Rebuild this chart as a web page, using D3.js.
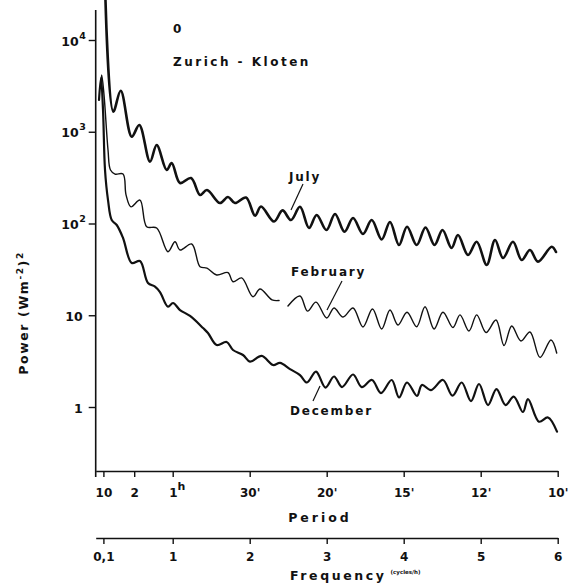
<!DOCTYPE html>
<html><head><meta charset="utf-8">
<script src="https://cdn.jsdelivr.net/npm/d3@7"></script>
<style>
body{margin:0;background:#fff;}
svg text{font-family:"DejaVu Sans",sans-serif;}
</style></head>
<body>
<script>
// ---------- DATA ----------
const julyFreq = [0.127,0.229,0.325,0.468,0.566,0.705,0.792,0.922,0.987,1.095,1.238,1.355,1.445,1.614,1.718,1.809,1.952,2.069,2.147,2.316,2.426,2.536,2.653,2.770,2.870,2.997,3.108,3.231,3.342,3.471,3.584,3.714,3.822,3.939,4.043,4.169,4.283,4.400,4.504,4.621,4.705,4.835,4.948,5.078,5.186,5.290,5.419,5.532,5.640,5.744,5.922,5.978];
const julyPower = [27300,1656,2800,883,1186,472,718,383,456,276,313,205,232,167,194.5,167,192,122,153,105,139,109,152,89.3,124,84.9,127,81.4,115,76.9,109,66.9,104,58.3,92.3,58.3,90.4,58.3,84.9,54.1,74.9,45.4,63.3,35.3,66.1,42.1,63.3,40.0,51.4,38.4,55.8,48.9];

const febFreq = [0.062,0.078,0.108,0.160,0.192,0.251,0.355,0.394,0.458,0.575,0.662,0.792,0.939,1.030,1.095,1.247,1.355,1.445,1.571,1.718,1.783,1.896,2.043,2.134,2.290,2.381,2.44,2.497,2.653,2.751,2.861,3.000,3.095,3.212,3.342,3.471,3.595,3.714,3.822,3.926,4.043,4.169,4.277,4.394,4.510,4.640,4.731,4.848,4.948,5.069,5.199,5.303,5.403,5.523,5.640,5.770,5.913,5.987];
const febPower = [3000,4160,2520,632,383,346,346,205,152,180,92.3,89.3,49.3,63.3,51.4,59.8,33.8,32.7,27.5,29.2,23.2,25.5,15.9,19.3,14.7,14.5,null,12.6,16.2,11.1,13.9,9.33,12.0,9.57,12.0,7.45,11.7,7.08,11.4,7.83,10.8,7.50,12.4,7.08,10.8,7.35,10.1,6.74,10.1,6.49,8.87,4.68,7.64,5.24,6.57,3.47,5.37,3.88];

const decFreq = [0.043,0.069,0.095,0.121,0.160,0.208,0.273,0.355,0.468,0.575,0.679,0.770,0.835,0.939,1.004,1.095,1.225,1.394,1.458,1.571,1.701,1.783,1.913,2.004,2.156,2.303,2.394,2.523,2.653,2.744,2.861,2.984,3.095,3.199,3.342,3.455,3.588,3.705,3.844,3.939,4.043,4.173,4.236,4.355,4.510,4.634,4.753,4.874,4.978,5.095,5.205,5.322,5.429,5.549,5.614,5.757,5.874,5.991];
const decPower = [2220,3850,1730,383,180,109,96.3,69.5,37.1,39.0,22.5,20.5,17.9,12.4,13.6,11.4,9.82,7.26,6.41,4.74,5.11,4.18,3.69,3.12,3.60,2.87,3.02,2.59,2.23,1.85,2.43,1.63,2.15,1.65,2.26,1.65,1.97,1.42,1.97,1.27,1.85,1.32,1.74,1.53,1.97,1.33,1.85,1.16,1.78,1.05,1.57,1.05,1.30,0.882,1.22,0.692,0.769,0.538];

const powerTicks = [1,10,100,1000,10000];
const powerLabels = [["1",""],["10",""],["10","2"],["10","3"],["10","4"]];
const periodTicks = [0.1,0.5,1,2,3,4,5,6];
const periodLabels = ["10","2","1","30'","20'","15'","12'","10'"];
const freqTicks = [0.1,1,2,3,4,5,6];
const freqLabels = ["0,1","1","2","3","4","5","6"];

// ---------- CHART ----------
const W = 568, H = 584;
const svg = d3.select("body").append("svg").attr("width", W).attr("height", H);
svg.append("rect").attr("width", W).attr("height", H).attr("fill", "#fff");

const x = d3.scaleLinear().domain([0, 6]).range([95.7, 557.7]);
const y = d3.scaleLog().domain([1, 10000]).range([407, 40]);
const ink = "#111";

// y axis
svg.append("line").attr("x1", x(0)).attr("x2", x(0)).attr("y1", 10).attr("y2", 477)
  .attr("stroke", ink).attr("stroke-width", 1.6);
const yAx = svg.append("g").attr("transform", `translate(${x(0)},0)`)
  .call(d3.axisLeft(y).tickValues(powerTicks).tickFormat("").tickSize(7).tickSizeOuter(0));
yAx.select(".domain").remove();
yAx.selectAll(".tick text").remove();
yAx.selectAll(".tick line").attr("stroke", ink).attr("stroke-width", 1.4);
yAx.selectAll(".tick").each(function(d, i) {
  const sup = powerLabels[i][1] !== "";
  d3.select(this).append("text").attr("x", sup ? -17 : -13).attr("y", 5)
    .attr("text-anchor", "end").attr("fill", ink)
    .style("font-size", "12.5px").style("font-weight", "bold").text(powerLabels[i][0]);
  if (sup) {
    d3.select(this).append("text").attr("x", -16.5).attr("y", -2).attr("fill", ink)
      .attr("text-anchor", "start")
      .style("font-size", "9.5px").style("font-weight", "bold").text(powerLabels[i][1]);
  }
});

// period axis
const pAx = svg.append("g").attr("transform", "translate(0,471)")
  .call(d3.axisBottom(x).tickValues(periodTicks).tickFormat("").tickSize(6).tickSizeOuter(0));
pAx.selectAll(".tick text").remove();
pAx.select(".domain").attr("stroke", ink).attr("stroke-width", 1.6);
pAx.selectAll(".tick line").attr("stroke", ink).attr("stroke-width", 1.4);
pAx.selectAll(".tick").each(function(d, i) {
  const t = d3.select(this).append("text").attr("y", 26).attr("fill", ink)
    .attr("text-anchor", "middle")
    .style("font-size", "12px").style("font-weight", "bold");
  t.append("tspan").text(periodLabels[i]);
  if (i === 2) {
    t.attr("text-anchor", "start").attr("x", -4);
    t.append("tspan").attr("dy", -7).style("font-size", "11px").text("h");
  }
});
svg.append("text").attr("x", 320).attr("y", 522).attr("text-anchor", "middle")
  .attr("fill", ink).style("font-size", "12.5px").style("font-weight", "bold")
  .style("letter-spacing", "3px").text("Period");

// frequency axis
const fAx = svg.append("g").attr("transform", "translate(0,538)")
  .call(d3.axisBottom(x).tickValues(freqTicks).tickFormat((d, i) => freqLabels[i]).tickSize(6).tickSizeOuter(0));
fAx.select(".domain").attr("stroke", ink).attr("stroke-width", 1.6);
fAx.selectAll(".tick line").attr("stroke", ink).attr("stroke-width", 1.4);
fAx.selectAll(".tick text").attr("fill", ink).attr("dy", 0).attr("y", 23)
  .style("font-size", "12px").style("font-weight", "bold");
const ft = svg.append("text").attr("x", 290).attr("y", 580).attr("fill", ink)
  .style("font-size", "12.5px").style("font-weight", "bold").style("letter-spacing", "2.6px");
ft.append("tspan").text("Frequency");
ft.append("tspan").attr("dx", 4).attr("dy", -6).style("font-size", "5.5px").style("letter-spacing", "0px").text("(cycles/h)");

// y label
svg.append("text").attr("transform", "translate(28,313) rotate(-90)").attr("text-anchor", "middle")
  .attr("fill", ink).style("font-size", "12.5px").style("font-weight", "bold").style("letter-spacing", "1.6px")
  .call(t => {
    t.append("tspan").text("Power  (Wm");
    t.append("tspan").attr("dy", -5).style("font-size", "9px").text("-2");
    t.append("tspan").attr("dy", 5).text(")");
    t.append("tspan").attr("dy", -5).style("font-size", "9px").text("2");
  });

// titles
svg.append("text").attr("x", 173).attr("y", 33).attr("fill", ink)
  .style("font-size", "12px").style("font-weight", "bold").text("0");
svg.append("text").attr("x", 173).attr("y", 66).attr("fill", ink)
  .style("font-size", "12px").style("font-weight", "bold").style("letter-spacing", "2.5px").text("Zurich - Kloten");

// curves
const mk = (fs, ps) => fs.map((f, i) => ({f, p: ps[i]}));
const line = d3.line().defined(d => d.p != null).x(d => x(d.f)).y(d => y(d.p)).curve(d3.curveCatmullRom.alpha(0.5));
const series = [
  {data: mk(julyFreq, julyPower), w: 2.6},
  {data: mk(febFreq, febPower), w: 1.4},
  {data: mk(decFreq, decPower), w: 2.2}
];
svg.append("defs").append("clipPath").attr("id", "clip")
  .append("rect").attr("x", 0).attr("y", 0).attr("width", W).attr("height", 471);
svg.append("g").attr("clip-path", "url(#clip)").selectAll("path").data(series).join("path")
  .attr("d", s => line(s.data)).attr("fill", "none").attr("stroke", ink)
  .attr("stroke-width", s => s.w).attr("stroke-linejoin", "round").attr("stroke-linecap", "round");

// series labels with leader lines
const labels = [
  {t: "July", x: 289, y: 181, l: [303, 184, 291, 210]},
  {t: "February", x: 291, y: 276, l: [342, 281, 327, 310]},
  {t: "December", x: 290, y: 415, l: [320, 386, 313, 401]}
];
labels.forEach(L => {
  svg.append("text").attr("x", L.x).attr("y", L.y).attr("fill", ink)
    .style("font-size", "12px").style("font-weight", "bold").style("letter-spacing", "1.8px").text(L.t);
  svg.append("line").attr("x1", L.l[0]).attr("y1", L.l[1]).attr("x2", L.l[2]).attr("y2", L.l[3])
    .attr("stroke", ink).attr("stroke-width", 1.2);
});
</script>
</body></html>
